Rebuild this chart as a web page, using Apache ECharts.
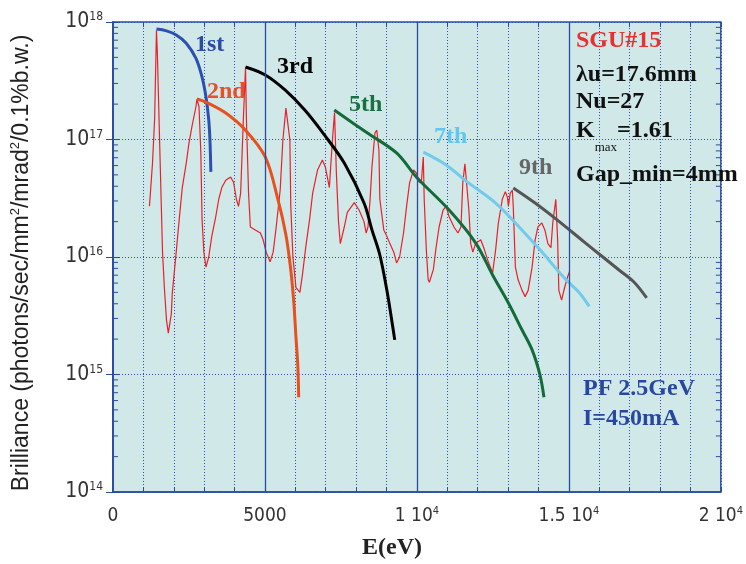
<!DOCTYPE html>
<html>
<head>
<meta charset="utf-8">
<script src="https://cdn.jsdelivr.net/npm/echarts@6/dist/echarts.min.js"></script>
<style>html,body{margin:0;padding:0;background:#fff;}#c{width:746px;height:564px;}</style>
</head>
<body>
<div id="c"></div>
<script>
// Energy (eV) and brilliance values
const spectrum = [
 [1200,2.7e16],[1300,6.3e16],[1370,1.5e17],[1430,8.5e17],[1460,5.4e17],[1530,1.05e17],[1590,2.7e16],[1630,1.1e16],
 [1690,5.5e15],[1760,2.9e15],[1820,2.25e15],[1920,3.3e15],[1950,4.9e15],[2080,1.1e16],[2180,2.1e16],[2280,3.9e16],
 [2410,6.3e16],[2500,9.3e16],[2600,1.3e17],[2730,1.9e17],[2760,2.2e17],[2830,1.9e17],[2890,7.7e16],[2930,2.1e16],
 [2990,1.1e16],[3060,8.2e15],[3150,1.0e16],[3250,1.5e16],[3380,2.2e16],[3480,3.1e16],[3580,3.9e16],[3710,4.5e16],
 [3870,4.8e16],[3970,4.3e16],[4060,3.1e16],[4130,2.7e16],[4200,3.5e16],[4290,1.5e17],[4360,4.1e17],[4390,1.5e17],
 [4460,3.5e16],[4520,1.8e16],[4680,1.7e16],[4850,1.6e16],[4940,1.4e16],[5040,1.1e16],[5170,9.1e15],[5270,1.1e16],
 [5370,1.8e16],[5500,3.7e16],[5590,9.9e16],[5690,1.85e17],[5820,9.9e16],[5850,2.7e16],[5920,1.0e16],[6020,5.5e15],
 [6150,5.0e15],[6240,7.3e15],[6340,1.2e16],[6470,2.1e16],[6570,3.5e16],[6730,5.5e16],[6890,6.7e16],[6990,5.8e16],
 [7120,3.9e16],[7150,5.2e16],[7220,9.9e16],[7290,1.7e17],[7350,5.2e16],[7420,2.0e16],[7480,1.3e16],[7610,1.8e16],
 [7710,2.4e16],[7940,2.9e16],[8100,2.5e16],[8260,2.0e16],[8330,1.6e16],[8390,1.8e16],[8460,3.1e16],[8520,5.8e16],
 [8620,1.14e17],[8680,1.2e17],[8750,8.1e16],[8780,3.1e16],[8910,1.7e16],[9010,1.5e16],[9110,1.3e16],[9240,1.1e16],
 [9330,8.9e15],[9430,1.0e16],[9560,1.6e16],[9660,2.7e16],[9760,4.3e16],[9890,5.5e16],[9980,5.2e16],[10080,4.3e16],
 [10150,4.5e16],[10210,7.1e16],[10240,3.1e16],[10310,1.15e16],[10370,6.4e15],[10410,6.1e15],[10540,7.8e15],[10630,1.2e16],
 [10730,1.8e16],[10860,2.5e16],[10960,2.7e16],[11060,2.2e16],[11220,1.8e16],[11350,1.6e16],[11450,1.8e16],[11510,4.3e16],
 [11580,6.2e16],[11680,3.1e16],[11710,2.5e16],[11770,1.3e16],[11840,1.1e16],[11930,1.3e16],[12100,1.4e16],[12200,1.2e16],
 [12330,9.4e15],[12490,7.3e15],[12590,1.15e16],[12680,1.95e16],[12810,3.1e16],[12910,3.6e16],[12980,3.2e16],[13010,2.7e16],
 [13070,3.5e16],[13140,3.7e16],[13170,2.7e16],[13240,8.2e15],[13330,6.4e15],[13460,5.2e15],[13560,4.6e15],[13660,5.2e15],
 [13790,8.2e15],[13890,1.4e16],[13980,1.8e16],[14110,1.95e16],[14210,1.7e16],[14310,1.3e16],[14410,1.2e16],[14470,1.95e16],
 [14570,3.1e16],[14630,1.4e16],[14670,5.2e15],[14760,4.3e15],[14860,5.5e15],[14960,6.8e15],[15020,7.5e15]
];
const harm1 = [[1430,8.7e17],[1760,8.4e17],[2080,7.75e17],[2410,6.6e17],[2730,4.9e17],[2930,3.4e17],[3060,2.3e17],[3150,1.47e17],[3190,9.9e16],[3220,5.3e16]];
const harm2 = [[2760,2.21e17],[3060,2.08e17],[3710,1.68e17],[4360,1.2e17],[5010,7.1e16],[5430,3.06e16],[5690,1.54e16],[5850,7.75e15],[5950,4.06e15],[6020,2.08e15],[6080,1.2e15],[6110,6.4e14]];
const harm3 = [[4360,4.14e17],[5010,3.54e17],[5660,2.64e17],[6310,1.78e17],[6960,1.09e17],[7610,6.3e16],[8260,2.88e16],[8520,1.7e16],[8780,1.04e16],[9010,5.24e15],[9170,2.91e15],[9270,1.97e15]];
const harm5 = [[7280,1.78e17],[8360,1.14e17],[9330,7.68e16],[9980,4.8e16],[11060,2.51e16],[11930,1.32e16],[12490,7.03e15],[13010,4.06e15],[13460,2.39e15],[13790,1.62e15],[14050,9.9e14],[14180,6.4e14]];
const harm7 = [[10210,7.8e16],[10960,6.07e16],[11610,4.44e16],[12590,2.88e16],[13240,1.95e16],[14050,1.15e16],[14860,6.6e15],[15350,4.94e15],[15670,3.8e15]];
const harm9 = [[13170,3.87e16],[13890,2.88e16],[14540,2.14e16],[15510,1.34e16],[16160,9.8e15],[16650,7.75e15],[17140,6.13e15],[17560,4.48e15]];
const majorX = [5000, 10000, 15000];
const xLabels = {0:'0', 5000:'5000', 10000:'1 10|4', 15000:'1.5 10|4', 20000:'2 10|4'};
const yDecades = [14, 15, 16, 17, 18];

const AX = '#2a4ca0';
const narrow = "'Liberation Sans Narrow','DejaVu Sans Condensed','Liberation Sans',sans-serif";
const serif = "'Liberation Serif','Times New Roman',serif";

const minorVals = [];
for (let i = 0; i < yDecades.length - 1; i++) for (let m = 2; m <= 9; m++) minorVals.push([0, m * Math.pow(10, yDecades[i])]);

function lineSeries(data, color, w) {
  return {type:'line', data, showSymbol:false, smooth:0.35, z:4, clip:true,
    lineStyle:{color, width:w}, itemStyle:{color}, silent:true};
}
function label(x, y, text, fill) {
  return {type:'text', x, y, z:10, style:{text, fontFamily:serif, fontSize:24, fontWeight:'bold', fill, verticalAlign:'middle'}};
}

const chart = echarts.init(document.getElementById('c'));
chart.setOption({
  animation:false,
  backgroundColor:'#ffffff',
  grid:{left:113, top:22, right:18, bottom:72, show:true, backgroundColor:'#d0e8e8', borderColor:AX, borderWidth:1.5},
  xAxis:[{
    type:'value', min:0, max:20000, interval:1000,
    axisLine:{show:true, lineStyle:{color:AX, width:1.5}},
    axisTick:{show:true, inside:true, length:5, lineStyle:{color:AX}},
    splitLine:{show:true, lineStyle:{color:'#3050b8', type:[1,2], width:1}},
    axisLabel:{margin:14, color:'#333', fontFamily:narrow, fontSize:19,
      formatter:v => { const s = xLabels[v]; if (s === undefined) return ''; const p = s.split('|'); return p.length>1 ? '{b|'+p[0]+'}{s|'+p[1]+'}' : '{b|'+p[0]+'}'; },
      rich:{b:{fontFamily:narrow, fontSize:19, color:'#333', lineHeight:20}, s:{fontFamily:narrow, fontSize:11, color:'#333', lineHeight:12, verticalAlign:'top'}}}
  },{
    type:'value', min:0, max:20000, interval:1000, position:'top',
    axisLine:{show:false}, axisLabel:{show:false}, splitLine:{show:false},
    axisTick:{show:true, inside:true, length:5, lineStyle:{color:AX}}
  }],
  yAxis:[{
    type:'log', logBase:10, min:1e14, max:1e18,
    axisLine:{show:true, lineStyle:{color:AX, width:1.5}},
    axisTick:{show:true, inside:true, length:7, lineStyle:{color:AX}},
    splitLine:{show:true, lineStyle:{color:'#3050b8', type:[1,2], width:1}},
    axisLabel:{margin:10, fontFamily:narrow, fontSize:20, color:'#333',
      formatter:v => '{b|10}{s|' + Math.round(Math.log10(v)) + '}',
      rich:{b:{fontFamily:narrow, fontSize:21, color:'#333', lineHeight:22}, s:{fontFamily:narrow, fontSize:12, color:'#333', lineHeight:12, verticalAlign:'top'}}}
  },{
    type:'log', logBase:10, min:1e14, max:1e18, position:'right',
    axisLine:{show:true, lineStyle:{color:AX, width:1.5}},
    axisTick:{show:true, inside:true, length:7, lineStyle:{color:AX}},
    splitLine:{show:false}, axisLabel:{show:false}
  }],
  series:[
    {type:'line', data:[], z:1, silent:true,
      markLine:{silent:true, symbol:'none', label:{show:false}, animation:false,
        lineStyle:{color:AX, type:'solid', width:1.3},
        data:majorX.map(v => ({xAxis:v}))}},
    {type:'custom', z:2, silent:true, data:minorVals, clip:false,
      renderItem:(params, api) => {
        const v = api.value(1);
        const l = api.coord([0, v]);
        const r = api.coord([20000, v]);
        return {type:'group', children:[
          {type:'line', shape:{x1:l[0], y1:l[1], x2:l[0]+5, y2:l[1]}, style:{stroke:AX, lineWidth:1}},
          {type:'line', shape:{x1:r[0], y1:r[1], x2:r[0]-5, y2:r[1]}, style:{stroke:AX, lineWidth:1}}
        ]};
      }},
    {type:'line', data:spectrum, showSymbol:false, z:3, silent:true, lineStyle:{color:'#e8202a', width:1.2}},
    lineSeries(harm1, '#2a50b0', 3),
    lineSeries(harm2, '#e8501e', 3),
    lineSeries(harm3, '#000000', 3),
    lineSeries(harm5, '#136b3a', 3),
    lineSeries(harm7, '#72cbea', 3),
    lineSeries(harm9, '#555555', 3)
  ],
  graphic:[
    {type:'text', x:22, y:263, rotation:Math.PI/2, z:10,
      style:{text:'{a|Brilliance (photons/sec/mm}{s|2}{a|/mrad}{s|2}{a|/0.1%b.w.)}', align:'center', verticalAlign:'middle',
        rich:{a:{fontFamily:"'Liberation Sans',Arial,sans-serif", fontSize:23, fill:'#222', lineHeight:26},
              s:{fontFamily:"'Liberation Sans',Arial,sans-serif", fontSize:13, fill:'#222', lineHeight:14, verticalAlign:'top'}}}},
    {type:'text', x:392, y:548, z:10, style:{text:'E(eV)', fontFamily:serif, fontSize:24, fontWeight:'bold', fill:'#222', align:'center', verticalAlign:'middle'}},
    label(195, 45, '1st', '#2a4ca8'),
    label(207, 92, '2nd', '#e8502a'),
    label(277, 67, '3rd', '#000'),
    label(349, 105, '5th', '#1a7040'),
    label(434, 137, '7th', '#60c8ec'),
    label(519, 168, '9th', '#666'),
    label(576, 41, 'SGU#15', '#e83030'),
    label(576, 75, 'λu=17.6mm', '#111'),
    label(576, 102, 'Nu=27', '#111'),
    {type:'text', x:576, y:131, z:10, style:{text:'{k|K}{m|max}{k|=1.61}', verticalAlign:'middle',
      rich:{k:{fontFamily:serif, fontSize:24, fontWeight:'bold', fill:'#111', lineHeight:26}, m:{fontFamily:serif, fontSize:13, fill:'#111', lineHeight:14, verticalAlign:'bottom', padding:[0,0,-10,0]}}}},
    label(576, 175, 'Gap_min=4mm', '#111'),
    label(583, 389, 'PF 2.5GeV', '#2848a0'),
    label(583, 419, 'I=450mA', '#2848a0')
  ]
});
</script>
</body>
</html>
